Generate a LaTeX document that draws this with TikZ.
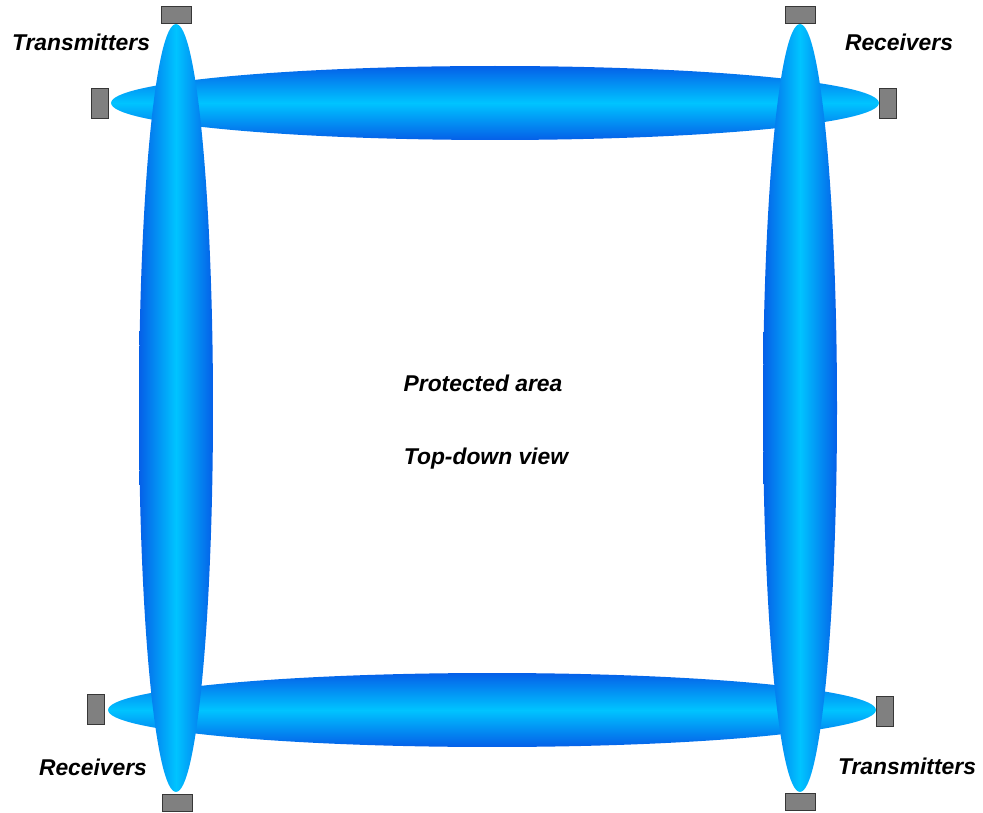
\documentclass[tikz,border=0pt]{standalone}
\usepackage{fontspec}
\setmainfont{Liberation Sans}
\usetikzlibrary{shapes.geometric}
\definecolor{beamdark}{RGB}{5,95,232}
\definecolor{beamlight}{RGB}{0,196,255}
\definecolor{boxfill}{RGB}{128,128,128}
\definecolor{boxline}{RGB}{55,55,55}
\tikzset{
  beamh/.style={ellipse, inner sep=0pt, minimum width=15.36cm, minimum height=1.48cm,
    top color=beamdark, bottom color=beamdark, middle color=beamlight},
  beamv/.style={ellipse, inner sep=0pt, minimum width=1.48cm, minimum height=15.36cm,
    top color=beamdark, bottom color=beamdark, middle color=beamlight, shading angle=90},
  hbox/.style={rectangle, inner sep=0pt, minimum width=0.6cm, minimum height=0.34cm,
    fill=boxfill, draw=boxline, line width=0.5pt},
  vbox/.style={rectangle, inner sep=0pt, minimum width=0.34cm, minimum height=0.6cm,
    fill=boxfill, draw=boxline, line width=0.5pt},
  lbl/.style={font=\fontsize{13}{15}\selectfont\bfseries\itshape, inner sep=0pt}
}
\begin{document}
\begin{tikzpicture}[x=0.02cm, y=-0.02cm]
\useasboundingbox (0,0) rectangle (983,813);
% horizontal beams
\node[beamh] (topbeam) at (495,103) {};
\node[beamh] (botbeam) at (492,710) {};
% vertical beams
\node[beamv] (leftbeam) at (176,408) {};
\node[beamv] (rightbeam) at (800,408) {};
% units
\node[hbox] (tl1) at (176,15) {};
\node[vbox] (tl2) at (100,103) {};
\node[hbox] (tr1) at (800,15) {};
\node[vbox] (tr2) at (888,103) {};
\node[vbox] (bl2) at (96,709) {};
\node[hbox] (bl1) at (177,803) {};
\node[vbox] (br2) at (885,711) {};
\node[hbox] (br1) at (800,802) {};
% labels
\node[lbl] (ltl) at (81,42) {Transmitters};
\node[lbl] (ltr) at (899,42) {Receivers};
\node[lbl] (lbl) at (93,767) {Receivers};
\node[lbl] (lbr) at (907,766) {Transmitters};
\node[lbl] (prot) at (483,383) {Protected area};
\node[lbl] (view) at (486,459) {Top-down view};
\end{tikzpicture}
\end{document}
